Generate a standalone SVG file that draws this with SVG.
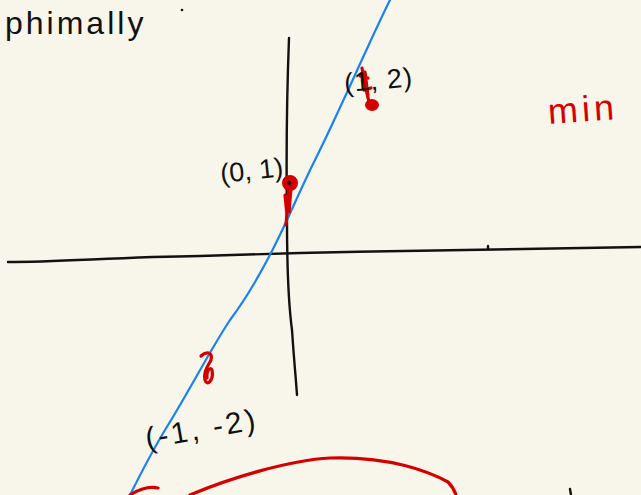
<svg xmlns="http://www.w3.org/2000/svg" width="641" height="495" viewBox="0 0 641 495">
<style>
.ink{fill:none;stroke:#111;stroke-width:2.4;stroke-linecap:round;stroke-linejoin:round}
.red{fill:none;stroke:#d40000;stroke-width:3.2;stroke-linecap:round;stroke-linejoin:round}
.blue{fill:none;stroke:#1a82f0;stroke-width:2.2;stroke-linecap:round}
.t{font-family:"Liberation Sans","DejaVu Sans",sans-serif;fill:#111}
.tr{font-family:"Liberation Sans","DejaVu Sans",sans-serif;fill:#d40000}
</style>
<rect width="641" height="495" fill="#f8f6eb"/>
<g id="axes">
<path class="ink" d="M8,262 C60,262 120,257 200,256 C240,255 270,254 300,253 C400,251 480,249 641,247"/>
<path class="ink" d="M488,246 L488,249"/>
<path class="ink" d="M289,38 C287,90 286,150 287,220 C287,260 288,300 292,330 C294,360 296,380 297,395"/>
</g>
<g id="line">
<path class="blue" d="M390,0 C370,40 340,110 315,160 C300,190 290,215 275,245 C260,275 245,300 230,320 C210,350 190,390 165,430 C150,455 140,475 130,495"/>
</g>
<g id="points">
<path class="red" d="M362,68 C364,80 366,92 370,105 M365,72 L368,96 M360,76 L368,78 M364,90 L371,88"/>
<ellipse cx="372" cy="105" rx="6" ry="5" fill="#d40000" stroke="#d40000" stroke-width="2"/>
<circle cx="290" cy="183" r="7" fill="#d40000" stroke="#d40000" stroke-width="2"/>
<circle cx="289" cy="183" r="2.2" fill="#111"/>
<path class="red" d="M289,186 L286,225 M291,188 L289,212 M285,195 L287,215"/>
<path class="red" d="M201,356 C206,351 213,352 211,360 C208,366 203,372 205,380 C207,387 214,380 212,370 C210,366 206,372 207,378" stroke-width="4"/>
<path class="red" d="M130,495 C138,490 148,486 158,488"/>
<path class="red" d="M190,495 C230,478 290,460 330,458 C390,456 430,472 448,482 C452,486 455,492 456,495" stroke-width="2.6"/>
<path class="ink" d="M570,489 L571,495" stroke-width="2"/>
</g>
<g id="labels">
<text class="t" x="5" y="34" font-size="32" letter-spacing="3">phimally</text>
<circle cx="182" cy="10" r="1.3" fill="#111"/>
<text class="t" x="220" y="180" font-size="27" transform="rotate(-6 248 170)">(0, 1)</text>
<text class="t" x="344" y="90" font-size="27" letter-spacing="1" transform="rotate(-5 370 80)">(1, 2)</text>
<text class="t" x="143" y="440" font-size="30" letter-spacing="3" transform="rotate(-10 195 420)">(-1, -2)</text>
<text class="tr" x="548" y="121" font-size="36" letter-spacing="4" transform="rotate(-4 590 110)">min</text>
</g>
</svg>
